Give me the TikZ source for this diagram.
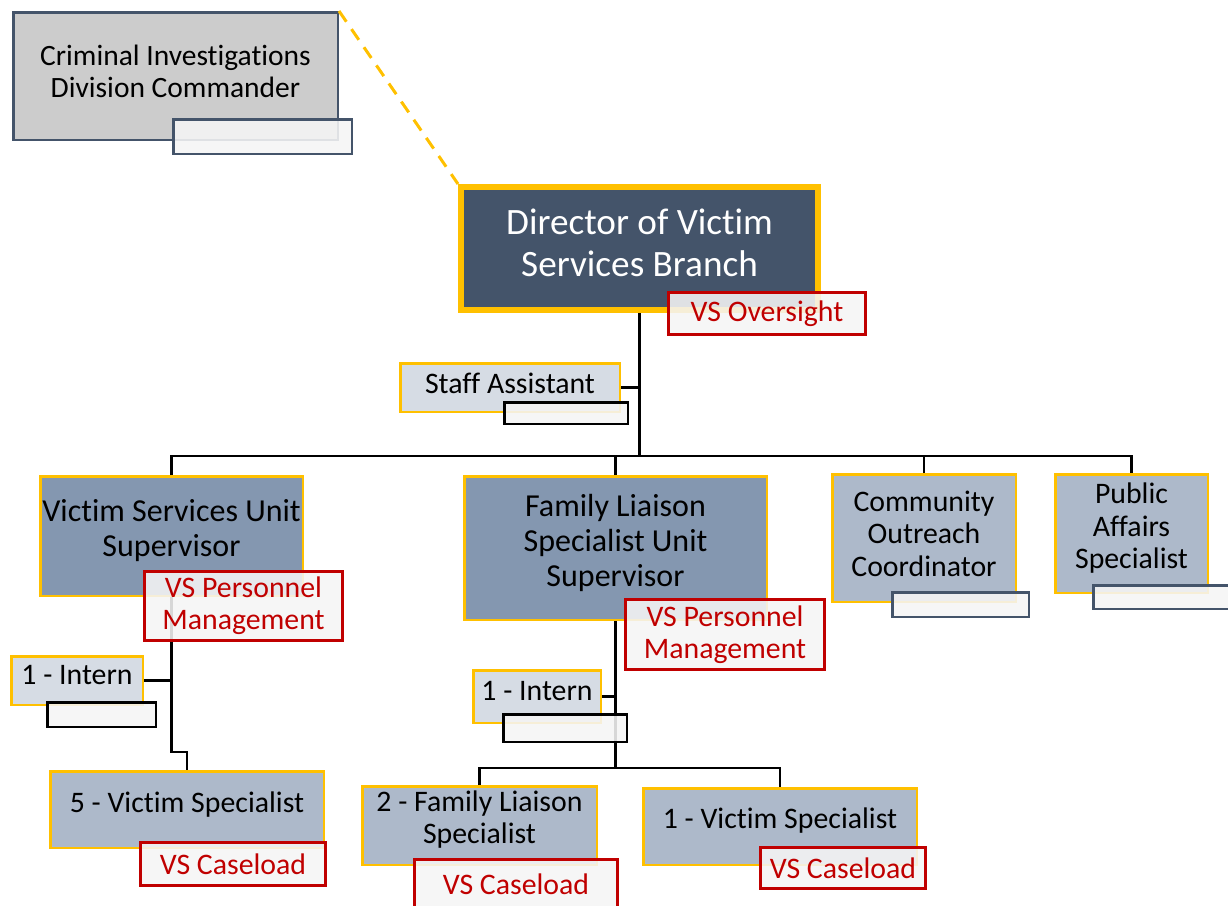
\documentclass[tikz,border=0pt]{standalone}
\usepackage{fontspec}
\setmainfont[Ligatures={NoCommon}]{Carlito}
\begin{document}
\definecolor{slate}{HTML}{44546A}
\definecolor{gold}{HTML}{FFC000}
\definecolor{supblue}{HTML}{8497B0}
\definecolor{paleblue}{HTML}{D6DCE4}
\definecolor{midblue}{HTML}{ADB9CA}
\definecolor{darkred}{HTML}{C00000}
\definecolor{tagfill}{HTML}{F5F5F5}
\definecolor{cidgray}{HTML}{CCCCCC}
\begin{tikzpicture}[x=1pt,y=-1pt,
  conn/.style={draw=black,line width=2.5pt},
  posbox/.style={draw=gold,line width=2.5pt,inner sep=0pt},
  tagbox/.style={fill=tagfill,fill opacity=0.88,text opacity=1,draw opacity=1,inner sep=0pt,line width=2.5pt},
  redtag/.style={tagbox,draw=darkred,line width=3pt,text=darkred,align=center,font=\fontsize{29.8}{32}\selectfont},
  txt/.style={align=center,inner sep=0pt,font=\fontsize{29.8}{32.5}\selectfont},
  suptxt/.style={align=center,inner sep=0pt,font=\fontsize{32}{35}\selectfont}
]
\useasboundingbox (0,0) rectangle (1228,905);

% ---- boxes ----
\node[draw=slate,fill=cidgray,line width=2.5pt,minimum width=324.5,minimum height=127.5] (cid) at (175.5,76) {};
\node[draw=gold,fill=slate,line width=6pt,minimum width=357,minimum height=123] (dir) at (639.5,248.5) {};
\node[posbox,fill=paleblue,minimum width=219.5,minimum height=48.5] (staff) at (510,387.5) {};
\node[posbox,fill=supblue,minimum width=262.5,minimum height=119.5] (vsu) at (171.5,536) {};
\node[posbox,fill=supblue,minimum width=302.5,minimum height=143.5] (fls) at (615.5,548) {};
\node[posbox,fill=midblue,minimum width=183.5,minimum height=127.5] (coc) at (924,538) {};
\node[posbox,fill=midblue,minimum width=152.5,minimum height=118.5] (pas) at (1131.5,533.5) {};
\node[posbox,fill=paleblue,minimum width=131.5,minimum height=48.5] (int1) at (77,680.5) {};
\node[posbox,fill=midblue,minimum width=273.5,minimum height=76.5] (vs5) at (187,809.5) {};
\node[posbox,fill=paleblue,minimum width=127.5,minimum height=52.5] (int2) at (537,696.5) {};
\node[posbox,fill=midblue,minimum width=234.5,minimum height=78.5] (fls2) at (479.5,825.5) {};
\node[posbox,fill=midblue,minimum width=273.5,minimum height=76.5] (vs1) at (780,826.5) {};

% ---- reporting lines ----
\coordinate (bar) at (639.5,456);
\coordinate (vsbend) at (171.5,752);
\coordinate (flsbar) at (615.5,768);
\draw[gold,line width=3pt,dash pattern=on 13pt off 9pt] (cid.north east) -- (dir.north west);
\draw[conn] (dir.south) -- (bar);
\draw[conn] (vsu.north) |- (bar) -| (pas.north);
\draw[conn] (fls.north) -- (fls.north |- bar);
\draw[conn] (coc.north) -- (coc.north |- bar);
\draw[conn] (staff.east) -- (staff.east -| bar);
\draw[conn] (vsu.south) -- (vsbend) -| (vs5.north);
\draw[conn] (int1.east) -- (int1.east -| vsu.south);
\draw[conn] (fls.south) -- (flsbar);
\draw[conn] (fls2.north) |- (flsbar) -| (vs1.north);
\draw[conn] (int2.east) -- (int2.east -| fls.south);

% ---- titles ----
\node[align=center,inner sep=0pt,font=\fontsize{29.5}{32}\selectfont] (cidt) at (175.5,71) {Criminal Investigations\\Division Commander};
\node[align=center,inner sep=0pt,text=white,font=\fontsize{37.2}{42}\selectfont] (dirt) at (639.5,243) {Director of Victim\\Services Branch};
\node[txt] (stafft) at (510,383) {Staff Assistant};
\node[suptxt] (vsut) at (171.5,531) {Victim Services Unit\\Supervisor};
\node[suptxt] (flst) at (615.5,543) {Family Liaison\\Specialist Unit\\Supervisor};
\node[txt] (coct) at (924,533.5) {Community\\Outreach\\Coordinator};
\node[txt] (past) at (1131.5,528.5) {Public\\Affairs\\Specialist};
\node[txt] (int1t) at (77,675) {1 - Intern};
\node[txt] (vs5t) at (187,805) {5 - Victim Specialist};
\node[txt] (int2t) at (537,691) {1 - Intern};
\node[txt,font=\fontsize{29.8}{32}\selectfont] (fls2t) at (479.5,820) {2 - Family Liaison\\Specialist};
\node[txt] (vs1t) at (780,821) {1 - Victim Specialist};

% ---- tags ----
\node[tagbox,draw=slate,minimum width=178.5,minimum height=34.5] (cidsub) at (262.5,136.5) {};
\node[redtag,minimum width=197,minimum height=42] (dirtag) at (767,313.5) {VS Oversight};
\node[tagbox,draw=black,minimum width=123.5,minimum height=21.5] (staffsub) at (566,413) {};
\node[redtag,minimum width=198,minimum height=69] (vsutag) at (243.5,606) {VS Personnel\\Management};
\node[tagbox,draw=black,minimum width=108.5,minimum height=24.5] (int1sub) at (101.5,714.5) {};
\node[redtag,minimum width=185,minimum height=43] (vs5tag) at (233,864) {VS Caseload};
\node[redtag,minimum width=199,minimum height=70] (flstag) at (725,634.5) {VS Personnel\\Management};
\node[tagbox,draw=black,minimum width=123.5,minimum height=27.5] (int2sub) at (565,728) {};
\node[redtag,minimum width=203,minimum height=49] (fls2tag) at (516,884) {VS Caseload};
\node[redtag,minimum width=165,minimum height=41] (vs1tag) at (843,868) {VS Caseload};
\node[tagbox,draw=slate,minimum width=136.5,minimum height=24.5] (cocsub) at (960.5,604.5) {};
\node[tagbox,draw=slate,minimum width=155,minimum height=23.5] (passub) at (1171,597) {};
\end{tikzpicture}
\end{document}
